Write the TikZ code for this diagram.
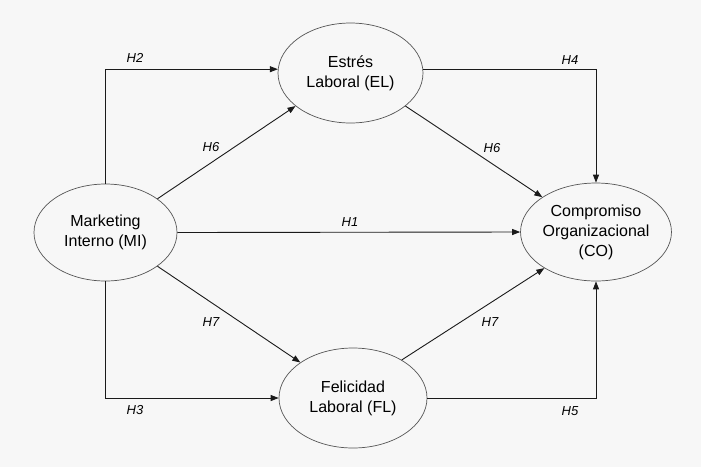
\documentclass[tikz,border=0pt]{standalone}
\usepackage{fontspec}
\setmainfont{Liberation Sans}
\usetikzlibrary{shapes.geometric,arrows.meta}
\definecolor{bg}{HTML}{F7F7F7}
\definecolor{ln}{HTML}{1A1A1A}
\definecolor{el}{HTML}{555555}
\begin{document}
\begin{tikzpicture}[x=1pt,y=-1pt,
  var/.style={ellipse, draw=el, line width=0.7pt, fill=bg, inner sep=0pt,
    align=center, font=\fontsize{16}{20}\selectfont},
  conn/.style={draw=ln, line width=0.9pt, -{Triangle[length=8pt,width=6pt]}},
  hlab/.style={font=\fontsize{13}{15}\selectfont\itshape}]
\fill[bg] (0,0) rectangle (701,467);
\useasboundingbox (0,0) rectangle (701,467);
\node[var, minimum width=143pt, minimum height=97pt] (MI) at (105.5,232.5) {Marketing\\Interno (MI)};
\node[var, minimum width=145pt, minimum height=100pt] (EL) at (350.5,73) {Estrés\\Laboral (EL)};
\node[var, minimum width=146pt, minimum height=98pt] (CO) at (596,232) {Compromiso\\Organizacional\\(CO)};
\node[var, minimum width=148pt, minimum height=100pt] (FL) at (353,398) {Felicidad\\Laboral (FL)};
\draw[conn] (MI.north) |- (EL.177);
\draw[conn] (MI.south) |- (FL.west);
\draw[conn] (EL.3) -| (CO.north);
\draw[conn] (FL.east) -| (CO.south);
\draw[conn] (MI.33) -- (EL.211);
\draw[conn] (EL.329) -- (CO.147);
\draw[conn] (MI.east) -- (CO.west);
\draw[conn] (MI.327) -- (FL.146);
\draw[conn] (FL.38) -- (CO.215);
\node[hlab] (h2) at (135,58) {H2};
\node[hlab] (h3) at (135,410) {H3};
\node[hlab] (h4) at (570,60) {H4};
\node[hlab] (h5) at (570,411) {H5};
\node[hlab] (h6a) at (211,147) {H6};
\node[hlab] (h6b) at (492,148) {H6};
\node[hlab] (h1) at (350,222) {H1};
\node[hlab] (h7a) at (211,322) {H7};
\node[hlab] (h7b) at (490,322) {H7};
\end{tikzpicture}
\end{document}
